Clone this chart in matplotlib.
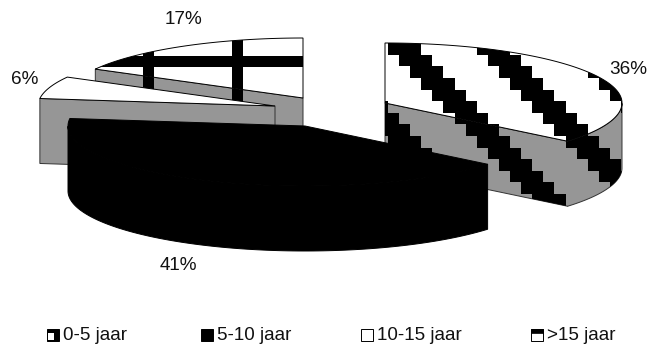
#!/usr/bin/env python3
# -*- coding: utf-8 -*-
"""
Taartdiagram met dienstjaren, in 3D met losse punten
"""

import numpy as np
import matplotlib
matplotlib.use("Agg")
import matplotlib.pyplot as plt
from matplotlib.patches import Polygon, Rectangle

plt.rcParams['font.family'] = ['Liberation Sans', 'DejaVu Sans']

categorieen = ["0-5 jaar", "5-10 jaar", "10-15 jaar", ">15 jaar"]
percentages = [36, 41, 6, 17]
labels = ["36%", "41%", "6%", "17%"]

# punt van elke taartpunt op het scherm (pixels)
punten = [(385, 103), (305, 126), (275, 106), (303, 98)]
label_pos = [(628, 70), (178, 265), (25, 80), (183, 19)]
legenda_x = [47, 201, 361, 531]

RX, RY = 237, 60
DIEPTE = 65
GRIJS = "#969696"
B, H = 648, 349

fig = plt.figure(figsize=(B / 100, H / 100), dpi=100)
ax = fig.add_axes([0, 0, 1, 1])
ax.set_xlim(0, B)
ax.set_ylim(H, 0)
ax.axis("off")

xx, yy = np.meshgrid(np.arange(B) + 0.5, np.arange(H) + 0.5)


def rgba(masker):
    img = np.zeros((H, B, 4))
    img[..., 3] = masker
    return img


def trap_streep(x0=388, y0=43.3, cel_x=11.1, cel_y=11.6):
    kol = np.floor((xx - x0) / cel_x)
    rij = np.floor((yy - y0) / cel_y)
    return rgba(((kol - rij) % 8) < 3)


def kruis(x0=143, y0=56, cel=11, periode=89):
    return rgba((((xx - x0) % periode) < cel) | (((yy - y0) % periode) < cel))


def boven(punt, t1, t2):
    th = np.radians(np.linspace(t1, t2, 120))
    rand = np.column_stack([punt[0] + RX * np.sin(th), punt[1] - RY * np.cos(th)])
    return np.round(np.vstack([punt, rand]), 6)


def voorkant(poly):
    # randen die naar links lopen zijn op het scherm naar voren gekeerd
    n = len(poly)
    start = [i for i in range(n) if poly[(i + 1) % n][0] < poly[i][0] and poly[i - 1][0] <= poly[i][0]][0]
    i = start
    keten = [poly[i]]
    while poly[(i + 1) % n][0] < poly[i][0]:
        i = (i + 1) % n
        keten.append(poly[i])
    keten = np.array(keten)
    return np.vstack([keten, (keten + [0, DIEPTE])[::-1]])


def patroon(img, patch, z):
    im = ax.imshow(img, extent=(0, B, H, 0), interpolation="nearest", zorder=z, aspect="auto")
    im.set_clip_path(patch)


patronen = [trap_streep(), None, None, kruis()]
volgorde = [3, 2, 0, 1]
hoeken = np.cumsum([0] + percentages) * 3.6

z = 1
for i in volgorde:
    t1, t2 = hoeken[i], hoeken[i + 1]
    bov = boven(punten[i], t1, t2)
    zij = voorkant(bov)
    zwart = i == 1
    pz = Polygon(zij, closed=True, fc="k" if zwart else GRIJS, ec="k" if zwart else "#333333", lw=0.7, zorder=z)
    pb = Polygon(bov, closed=True, fc="k" if zwart else "w", ec="k", lw=0.7, zorder=z + 2)
    ax.add_patch(pz)
    if patronen[i] is not None:
        patroon(patronen[i], pz, z + 1)
    ax.add_patch(pb)
    if patronen[i] is not None:
        patroon(patronen[i], pb, z + 3)
    z += 4

for lab, pos in zip(labels, label_pos):
    ax.text(pos[0], pos[1], lab, fontsize=13.6, ha="center", va="center", color="#111111", zorder=50)

# legenda
for j, (naam, x) in enumerate(zip(categorieen, legenda_x)):
    vak = Rectangle((x, 329), 12, 12, fc="w", ec="k", lw=0.7, zorder=50)
    ax.add_patch(vak)
    if j == 0:
        vak.set_facecolor("k")
        ax.add_patch(Rectangle((x + 1, 332.5), 6, 7.5, fc="w", ec="none", zorder=51))
    elif j == 1:
        vak.set_facecolor("k")
    elif j == 3:
        ax.add_patch(Rectangle((x, 329), 12, 3.5, fc="k", ec="k", lw=0.5, zorder=51))
    ax.text(x + 16, 336, naam, fontsize=13.6, ha="left", va="center", color="#111111", zorder=50)

fig.savefig("out.png", dpi=100)
